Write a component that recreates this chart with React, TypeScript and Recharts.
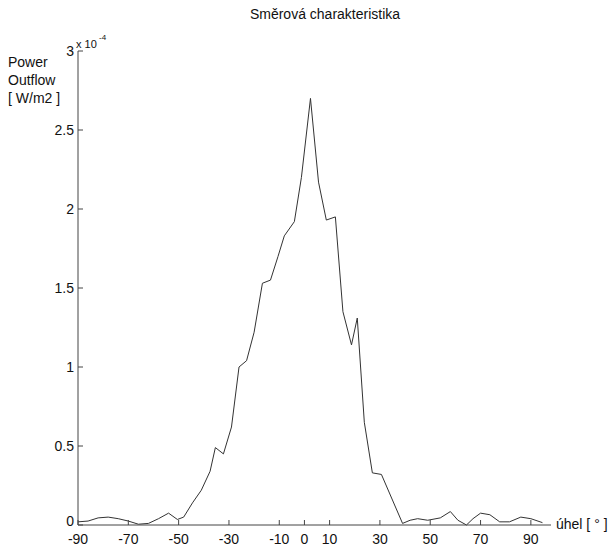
import { LineChart, Line, XAxis, YAxis } from "recharts";

// angle in degrees, power outflow in units of 1e-4 W/m2
const angles = [
  -90, -86, -82, -78, -74, -70, -66, -62, -58, -54, -50.5, -48, -44.5, -41, -37.5,
  -35.4, -32.2, -29, -26, -23, -20, -16.7, -13.5, -10.5, -8, -4, -1.2, 2.4, 5.6,
  8.7, 12.3, 15.3, 18.7, 21, 23.8, 27, 30.6, 39, 42, 45, 49, 54, 58, 61, 64.4, 67,
  70, 73.7, 77.6, 81.5, 86, 90, 94.6,
];
const power = [
  0.02, 0.025, 0.045, 0.05, 0.04, 0.025, 0.005, 0.01, 0.04, 0.075, 0.035, 0.05, 0.14,
  0.22, 0.34, 0.49, 0.45, 0.62, 1.0, 1.04, 1.22, 1.53, 1.55, 1.7, 1.83, 1.92, 2.2, 2.7,
  2.17, 1.93, 1.95, 1.35, 1.14, 1.31, 0.65, 0.33, 0.32, 0.01, 0.03, 0.04, 0.03, 0.045,
  0.085, 0.03, 0.0, 0.04, 0.075, 0.065, 0.02, 0.02, 0.05, 0.04, 0.015,
];
const xTicks = [-90, -70, -50, -30, -10, 0, 10, 30, 50, 70, 90];
const yTicks = [0, 0.5, 1, 1.5, 2, 2.5, 3];

const data = angles.map((a, i) => ({ angle: a, power: power[i] }));

const FONT = "'Liberation Sans', Arial, sans-serif";

function XTick({ x, y, payload }: any) {
  return (
    <g>
      <line x1={x} y1={y} x2={x} y2={y - 5} stroke="#444" />
      <text x={x} y={y + 19} textAnchor="middle" fontSize={14} fill="#111" fontFamily={FONT}>
        {payload.value}
      </text>
    </g>
  );
}

function YTick({ x, y, payload }: any) {
  // the zero label sits a little above the x axis, as in the original
  const dy = payload.value === 0 ? 1 : 5;
  return (
    <g>
      <line x1={x} y1={y} x2={x + 5} y2={y} stroke="#444" />
      <text x={x - 4} y={y + dy} textAnchor="end" fontSize={14} fill="#111" fontFamily={FONT}>
        {payload.value}
      </text>
    </g>
  );
}

export default function App() {
  return (
    <div style={{ position: "absolute", left: 0, top: 0, width: 614, height: 548, background: "#fff" }}>
      <LineChart
        width={614}
        height={548}
        data={data}
        margin={{ top: 51, right: 63, left: 0, bottom: 0 }}
      >
        <XAxis
          dataKey="angle"
          type="number"
          domain={[-90, 98]}
          ticks={xTicks}
          height={23}
          tickSize={0}
          tickMargin={0}
          tickLine={false}
          axisLine={{ stroke: "#444" }}
          tick={<XTick />}
          allowDataOverflow
        />
        <YAxis
          type="number"
          domain={[0, 3]}
          ticks={yTicks}
          width={78}
          tickSize={0}
          tickMargin={0}
          tickLine={false}
          axisLine={{ stroke: "#444" }}
          tick={<YTick />}
        />
        <Line
          type="linear"
          dataKey="power"
          stroke="#333"
          strokeWidth={1}
          dot={false}
          isAnimationActive={false}
        />
        <text x={325} y={19} textAnchor="middle" fontSize={14} fill="#111" fontFamily={FONT}>
          Směrová charakteristika
        </text>
        <text x={8} y={67} fontSize={14} fill="#111" fontFamily={FONT}>Power</text>
        <text x={8} y={85} fontSize={14} fill="#111" fontFamily={FONT}>Outflow</text>
        <text x={8} y={103} fontSize={14} fill="#111" fontFamily={FONT}>[ W/m2 ]</text>
        <text x={76} y={48} fontSize={11} fill="#111" fontFamily={FONT}>x 10</text>
        <text x={99} y={40} fontSize={8} fill="#111" fontFamily={FONT}>-4</text>
        <text x={556} y={529} fontSize={14} fill="#111" fontFamily={FONT}>úhel [ ° ]</text>
      </LineChart>
    </div>
  );
}
